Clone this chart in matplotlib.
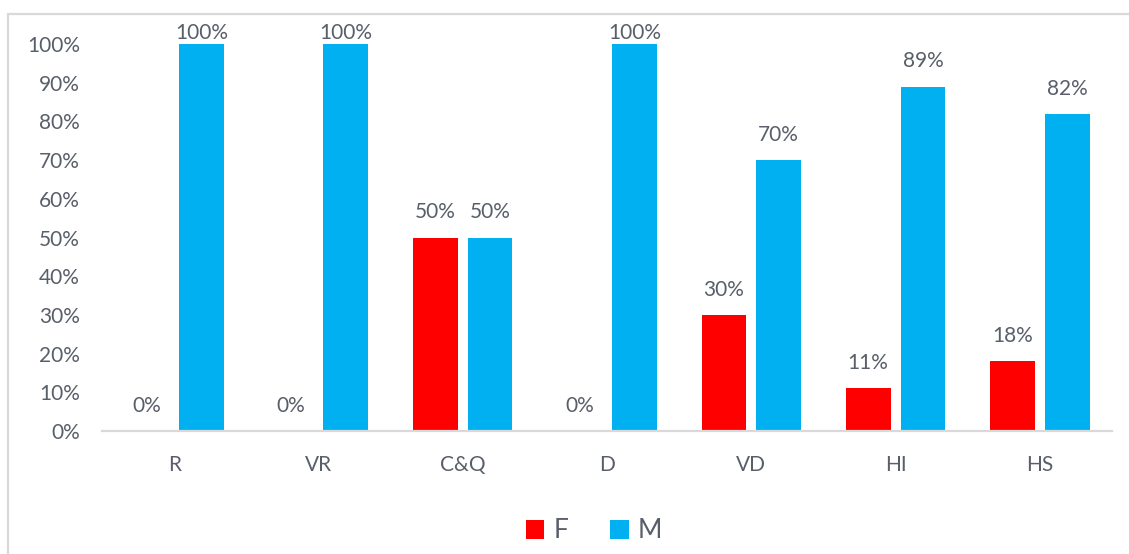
import numpy as np
import matplotlib
matplotlib.use('Agg')
import matplotlib.pyplot as plt
from matplotlib.patches import Rectangle

categories = ['R', 'VR', 'C&Q', 'D', 'VD', 'HI', 'HS']
female = [0, 0, 50, 0, 30, 11, 18]
male = [100, 100, 50, 100, 70, 89, 82]
yticks = [0, 10, 20, 30, 40, 50, 60, 70, 80, 90, 100]

RED = '#ff0000'
BLUE = '#00b0f0'
TXT = '#595f6a'

plt.rcParams['font.family'] = ['Lato', 'DejaVu Sans']

fig = plt.figure(figsize=(11.29, 5.54), dpi=100)
# chart frame
fig.patches.append(Rectangle((8 / 1129, -0.1), 1.2, 1 - 14 / 554 + 0.1,
                             transform=fig.transFigure, fill=False,
                             edgecolor='#d9d9d9', lw=1.6))

ax = fig.add_axes([102 / 1129, 1 - 431 / 554, 1010 / 1129, 387 / 554])
x = np.arange(len(categories))
w = 0.31
off = 0.19
bf = ax.bar(x - off, female, w, color=RED, label='F')
bm = ax.bar(x + off, male, w, color=BLUE, label='M')

# value labels sit above the bars but stay inside the chart frame
for bars, vals in ((bf, female), (bm, male)):
    for b, v in zip(bars, vals):
        ax.text(b.get_x() + b.get_width() / 2, min(v + 6.5, 102.8), f'{v}%',
                ha='center', va='center', fontsize=15, color=TXT)

ax.set_xlim(-0.5, len(categories) - 0.5)
ax.set_ylim(0, 100)
ax.set_yticks(yticks)
ax.set_yticklabels([f'{t}%' for t in yticks])
ax.set_xticks(x)
ax.set_xticklabels(categories)
ax.tick_params(axis='y', length=0, pad=16, labelsize=15, labelcolor=TXT)
ax.tick_params(axis='x', length=0, pad=17, labelsize=15, labelcolor=TXT)
for s in ('top', 'right', 'left'):
    ax.spines[s].set_visible(False)
ax.spines['bottom'].set_color('#d9d9d9')
ax.spines['bottom'].set_linewidth(1.6)

fig.legend(handles=[bf, bm], loc='center', bbox_to_anchor=(594 / 1129, 1 - 531 / 554),
           ncol=2, frameon=False, fontsize=19, handlelength=0.7, handleheight=0.7,
           handletextpad=0.35, columnspacing=1.6, labelcolor=TXT)

fig.savefig('out.png', dpi=100)
